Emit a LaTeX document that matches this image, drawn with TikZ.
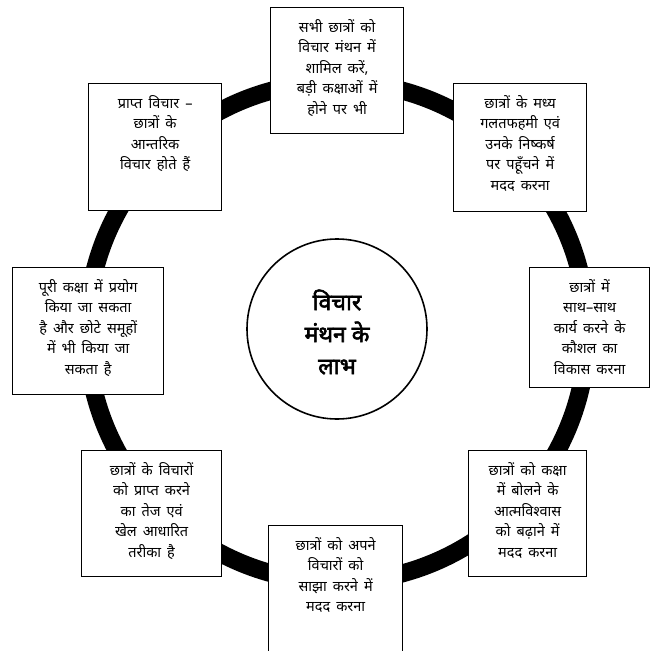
\documentclass[tikz,border=0pt]{standalone}
\usepackage{fontspec}
\newfontfamily\dev[Script=Devanagari,WordSpace=1.6]{Noto Sans}
\newfontfamily\devb[Script=Devanagari,FakeBold=2.5]{Noto Sans}
\begin{document}
\begin{tikzpicture}[x=1pt,y=-1pt,
  box/.style={draw=black,line width=1.3pt,fill=white,anchor=north west,inner sep=0pt},
  txt/.style={anchor=north,align=center,inner sep=0pt,font=\dev\fontsize{14.5}{20.5}\selectfont},
  ringline/.style={line width=18pt,draw=black}]
\useasboundingbox (0,0) rectangle (650,651);
\fill[white] (0,0) rectangle (650,651);
\coordinate (rc) at (337,332);
\draw[ringline] (rc) circle[radius=250];
% center circle
\node[circle,draw=black,line width=1.6pt,fill=white,minimum size=180pt,inner sep=0pt] (hub) at (337,329) {};
\node[align=center,font=\devb\fontsize{23}{32}\selectfont] (hubtxt) at ([yshift=-3pt]hub.center) {विचार\\मंथन के\\लाभ};
% boxes
\node[box,minimum width=133pt,minimum height=126pt] (b1) at (270,7) {};
\node[txt] (t1) at ([yshift=-12pt]b1.north) {सभी छात्रों को\\विचार मंथन में\\शामिल करें,\\बड़ी कक्षाओं में\\होने पर भी};
\node[box,minimum width=133pt,minimum height=128pt] (b2) at (453,83) {};
\node[txt] (t2) at ([yshift=-12pt]b2.north) {छात्रों के मध्य\\गलतफहमी एवं\\उनके निष्कर्ष\\पर पहूँचने में\\मदद करना};
\node[box,minimum width=120pt,minimum height=120pt] (b3) at (529,267) {};
\node[txt] (t3) at ([yshift=-12pt]b3.north) {छात्रों में\\साथ–साथ\\कार्य करने के\\कौशल का\\विकास करना};
\node[box,minimum width=118pt,minimum height=126pt] (b4) at (468,450) {};
\node[txt] (t4) at ([yshift=-12pt]b4.north) {छात्रों को कक्षा\\में बोलने के\\आत्मविश्वास\\को बढ़ाने में\\मदद करना};
\node[box,minimum width=134pt,minimum height=126pt] (b5) at (268,525) {};
\node[txt] (t5) at ([yshift=-12pt]b5.north) {छात्रों को अपने\\विचारों को\\साझा करने में\\मदद करना};
\node[box,minimum width=140pt,minimum height=126pt] (b6) at (81,450) {};
\node[txt] (t6) at ([yshift=-12pt]b6.north) {छात्रों के विचारों\\को प्राप्त करने\\का तेज एवं\\खेल आधारित\\तरीका है};
\node[box,minimum width=151pt,minimum height=127pt] (b7) at (12,267) {};
\node[txt] (t7) at ([yshift=-12pt]b7.north) {पूरी कक्षा में प्रयोग\\किया जा सकता\\है और छोटे समूहों\\में भी किया जा\\सकता है};
\node[box,minimum width=133pt,minimum height=127pt] (b8) at (88,83) {};
\node[txt] (t8) at ([yshift=-12pt]b8.north) {प्राप्त विचार –\\छात्रों के\\आन्तरिक\\विचार होते हैं};
\end{tikzpicture}
\end{document}
